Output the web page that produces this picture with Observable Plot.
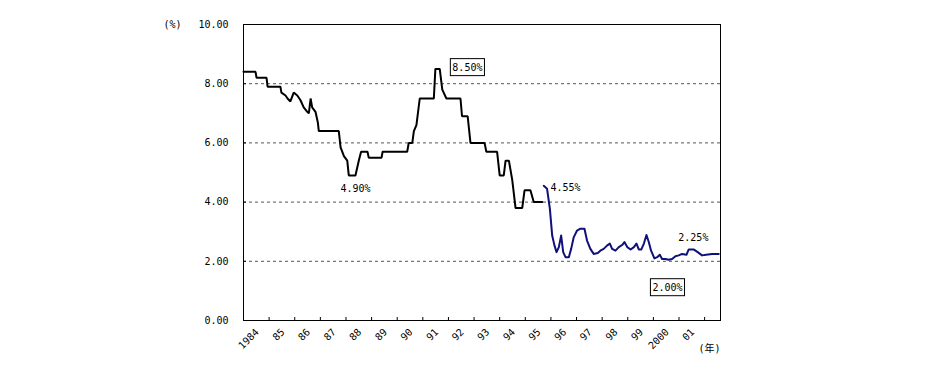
<!DOCTYPE html>
<html><head><meta charset="utf-8">
<script src="https://cdn.jsdelivr.net/npm/d3@7"></script>
<script src="https://cdn.jsdelivr.net/npm/@observablehq/plot@0.6"></script>
<style>body{margin:0;background:#fff;}</style>
</head><body><div id="chart"></div>
<script>
// Old series (black)
const oldYears = [1984.0,1984.47,1984.51,1984.9,1984.94,1985.44,1985.48,1985.64,1985.72,1985.83,1985.96,1986.1,1986.22,1986.35,1986.49,1986.55,1986.62,1986.68,1986.81,1986.9,1986.94,1987.72,1987.79,1987.92,1988.05,1988.11,1988.37,1988.5,1988.59,1988.84,1988.89,1989.39,1989.43,1990.39,1990.45,1990.59,1990.65,1990.75,1990.88,1991.43,1991.49,1991.66,1991.76,1991.92,1992.47,1992.53,1992.75,1992.86,1993.41,1993.48,1993.9,1994.0,1994.16,1994.23,1994.36,1994.49,1994.62,1994.88,1994.97,1995.2,1995.33,1995.66];
const oldRates = [8.4,8.4,8.2,8.2,7.9,7.9,7.7,7.6,7.5,7.4,7.7,7.6,7.45,7.2,7.05,7.0,7.5,7.2,7.05,6.7,6.4,6.4,5.85,5.55,5.4,4.9,4.9,5.4,5.7,5.7,5.5,5.5,5.7,5.7,6.0,6.0,6.4,6.6,7.5,7.5,8.5,8.5,7.8,7.5,7.5,6.9,6.9,6.0,6.0,5.7,5.7,4.9,4.9,5.4,5.4,4.75,3.8,3.8,4.4,4.4,4.0,4.0];
// New series (blue)
const newYears = [1995.72,1995.85,1995.96,1996.05,1996.14,1996.22,1996.31,1996.4,1996.48,1996.57,1996.7,1996.79,1996.89,1997.02,1997.15,1997.31,1997.41,1997.54,1997.67,1997.83,1997.93,1998.06,1998.19,1998.3,1998.39,1998.52,1998.65,1998.78,1998.87,1998.98,1999.11,1999.24,1999.34,1999.43,1999.53,1999.63,1999.73,1999.82,1999.91,2000.04,2000.15,2000.25,2000.34,2000.47,2000.6,2000.73,2000.86,2000.99,2001.12,2001.29,2001.38,2001.57,2001.73,2001.9,2002.06,2002.29,2002.55];
const newRates = [4.55,4.45,3.77,2.87,2.53,2.31,2.48,2.87,2.31,2.14,2.14,2.42,2.81,3.04,3.1,3.1,2.7,2.42,2.25,2.28,2.36,2.42,2.53,2.6,2.42,2.36,2.48,2.55,2.65,2.48,2.4,2.48,2.6,2.4,2.4,2.6,2.89,2.65,2.36,2.1,2.14,2.22,2.08,2.08,2.05,2.08,2.17,2.2,2.25,2.22,2.4,2.4,2.31,2.2,2.22,2.25,2.25];

const yTicks = [0,2,4,6,8,10];
const gridValues = [2,4,6,8];
const yearStarts = [1984,1985,1986,1987,1988,1989,1990,1991,1992,1993,1994,1995,1996,1997,1998,1999,2000,2001];
const yearLabels = ["1984","85","86","87","88","89","90","91","92","93","94","95","96","97","98","99","2000","01"];
const tickBoundaries = [1985,1986,1987,1988,1989,1990,1991,1992,1993,1994,1995,1996,1997,1998,1999,2000,2001,2002];
const xDomain = [1984, 2002.62];

const annLabels = ["8.50%","4.90%","4.55%","2.25%","2.00%"];
const annX = [1992.74,1988.37,1996.57,2001.56,2000.55];
const annY = [8.55,4.46,4.49,2.8,1.115];
const annBoxed = [true,false,false,false,true];

const oldData = oldYears.map((x,i)=>({x, y: oldRates[i]}));
const newData = newYears.map((x,i)=>({x, y: newRates[i]}));
const yearData = yearStarts.map((s,i)=>({x: s + 0.5, label: yearLabels[i]}));
const annData = annLabels.map((t,i)=>({x: annX[i], y: annY[i], t, boxed: annBoxed[i]}));

const font = "'DejaVu Sans Mono', 'Noto Sans CJK JP', monospace";

const chart = Plot.plot({
  width: 950, height: 372,
  marginLeft: 243, marginRight: 230, marginTop: 24, marginBottom: 52,
  x: {domain: xDomain, axis: null},
  y: {domain: [0, 10], axis: null},
  style: {fontFamily: font, fontSize: "10px", color: "#000", background: "#fff"},
  marks: [
    Plot.ruleY(gridValues, {stroke: "#555", strokeDasharray: "3,3", strokeWidth: 1}),
    Plot.frame({stroke: "#000", strokeWidth: 1}),
    Plot.axisY({ticks: yTicks, tickFormat: d3.format(".2f"), tickSize: 0, tickPadding: 15, label: null, fontSize: 10}),
    Plot.ruleY(yTicks, {x1: xDomain[0], x2: xDomain[0], insetRight: -3, stroke: "#000"}),
    Plot.ruleX(tickBoundaries, {y1: 0, y2: 0, insetTop: -3, stroke: "#000"}),
    Plot.text(yearData, {x: "x", y: () => 0, text: "label", rotate: -45, textAnchor: "end", dy: 10, dx: 1, fill: "#000"}),
    Plot.line(oldData, {x: "x", y: "y", stroke: "#000", strokeWidth: 2, strokeLinejoin: "miter"}),
    Plot.line(newData, {x: "x", y: "y", stroke: "#10107a", strokeWidth: 2}),
    Plot.text(annData.filter(d => !d.boxed), {x: "x", y: "y", text: "t", fill: "#000"}),
    Plot.text(annData.filter(d => d.boxed), {x: "x", y: "y", text: "t", fill: "#000", className: "boxed"}),
    Plot.text(["(%)"], {x: () => xDomain[0], y: () => 10, text: d => d, dx: -71, fill: "#000"}),
    Plot.text(["(年)"], {x: () => xDomain[1], y: () => 0, text: d => d, dx: -11, dy: 28, fill: "#000"})
  ]
});
document.getElementById("chart").appendChild(chart);

// draw boxes behind boxed annotation texts
chart.querySelectorAll("g.boxed text").forEach(t => {
  const b = t.getBBox();
  const r = document.createElementNS("http://www.w3.org/2000/svg", "rect");
  r.setAttribute("x", b.x - 2);
  r.setAttribute("y", b.y - 3);
  r.setAttribute("width", b.width + 4);
  r.setAttribute("height", b.height + 6);
  r.setAttribute("fill", "#fff");
  r.setAttribute("stroke", "#000");
  r.setAttribute("stroke-width", "1");
  const tr = t.getAttribute("transform");
  if (tr) r.setAttribute("transform", tr);
  t.parentNode.insertBefore(r, t);
});
</script>
</body></html>
